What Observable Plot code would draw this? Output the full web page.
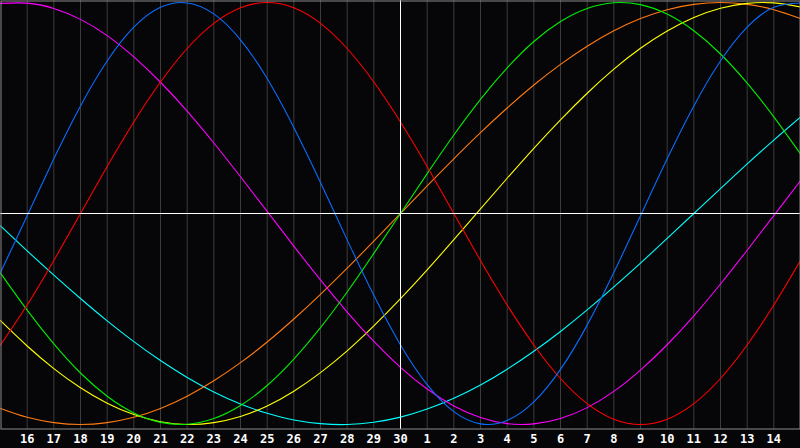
<!DOCTYPE html>
<html>
<head>
<meta charset="utf-8">
<script src="https://cdn.jsdelivr.net/npm/d3@7"></script>
<script src="https://cdn.jsdelivr.net/npm/@observablehq/plot@0.6"></script>
<style>
html,body{margin:0;padding:0;background:#060608;overflow:hidden;}
#chart svg{display:block;}
</style>
</head>
<body>
<div id="chart"></div>
<script>
// sample positions (day index across the window) and the day labels shown under positions 1..29
const days = [0,1,2,3,4,5,6,7,8,9,10,11,12,13,14,15,16,17,18,19,20,21,22,23,24,25,26,27,28,29,30];
const dayLabels = ["16","17","18","19","20","21","22","23","24","25","26","27","28","29","30","1","2","3","4","5","6","7","8","9","10","11","12","13","14"];
const todayLabel = "30";

// curve values at each day position (-1 .. 1)
const physical     = [-0.280,-0.011,0.259,0.510,0.723,0.883,0.977,0.998,0.946,0.823,0.640,0.408,0.147,-0.125,-0.388,-0.623,-0.811,-0.939,-0.997,-0.981,-0.893,-0.739,-0.529,-0.280,-0.011,0.259,0.510,0.723,0.883,0.977,0.998];
const emotional    = [-0.623,-0.434,-0.223,0,0.223,0.434,0.623,0.782,0.901,0.975,1,0.975,0.901,0.782,0.623,0.434,0.223,0,-0.223,-0.434,-0.623,-0.782,-0.901,-0.975,-1,-0.975,-0.901,-0.782,-0.623,-0.434,-0.223];
const intellectual = [-0.282,-0.458,-0.618,-0.756,-0.866,-0.945,-0.990,-0.999,-0.972,-0.910,-0.815,-0.690,-0.541,-0.372,-0.189,0,0.189,0.372,0.541,0.690,0.815,0.910,0.972,0.999,0.990,0.945,0.866,0.756,0.618,0.458,0.282];
const intuitive    = [0.996,0.997,0.972,0.920,0.843,0.742,0.622,0.485,0.334,0.174,0.010,-0.155,-0.315,-0.467,-0.606,-0.729,-0.832,-0.912,-0.967,-0.996,-0.997,-0.972,-0.920,-0.843,-0.742,-0.622,-0.485,-0.334,-0.174,-0.010,0.155];
const aesthetic    = [-0.508,-0.628,-0.735,-0.826,-0.899,-0.953,-0.987,-1.000,-0.991,-0.962,-0.912,-0.842,-0.754,-0.651,-0.533,-0.404,-0.267,-0.124,0.022,0.167,0.309,0.444,0.570,0.684,0.783,0.865,0.929,0.973,0.996,0.998,0.979];
const awareness    = [-0.924,-0.966,-0.991,-1,-0.991,-0.966,-0.924,-0.866,-0.793,-0.707,-0.609,-0.5,-0.383,-0.259,-0.131,0,0.131,0.259,0.383,0.5,0.609,0.707,0.793,0.866,0.924,0.966,0.991,1,0.991,0.966,0.924];
const spiritual    = [-0.059,-0.177,-0.292,-0.403,-0.509,-0.607,-0.697,-0.777,-0.846,-0.903,-0.947,-0.979,-0.996,-1.000,-0.989,-0.965,-0.927,-0.876,-0.813,-0.738,-0.653,-0.559,-0.457,-0.348,-0.235,-0.118,0.000,0.118,0.235,0.348,0.457];

const seriesNames  = ["spiritual","awareness","aesthetic","intuitive","intellectual","emotional","physical"];
const seriesValues = [spiritual, awareness, aesthetic, intuitive, intellectual, emotional, physical];
const seriesColors = ["#00ffff","#ff7a10","#ffff00","#ff00ff","#00ee00","#ff0000","#0a6cff"];

const rows = seriesNames.flatMap((name, s) =>
  seriesValues[s].map((v, i) => ({day: days[i], value: v, name}))
);
const tickDays = days.slice(1, days.length - 1);
const todayDay = tickDays[dayLabels.indexOf(todayLabel)];

const chart = Plot.plot({
  width: 800,
  height: 448,
  marginTop: 0,
  marginRight: 0,
  marginLeft: 0,
  marginBottom: 19,
  style: {background: "#060608", color: "#ffffff", overflow: "visible"},
  x: {domain: [days[0], days[days.length - 1]], axis: null},
  y: {domain: [-1, 1], range: [424, 2], axis: null},
  color: {type: "ordinal", domain: seriesNames, range: seriesColors},
  marks: [
    Plot.ruleX(tickDays, {stroke: "#3c3c3c", strokeWidth: 1}),
    Plot.line(rows, {x: "day", y: "value", z: "name", stroke: d => d.name, strokeWidth: 1.1, curve: "natural", clip: true}),
    Plot.ruleX([todayDay], {stroke: "#ffffff", strokeWidth: 1}),
    Plot.ruleY([0], {stroke: "#ffffff", strokeWidth: 1}),
    Plot.frame({stroke: "#8a8a8a", inset: 0.5}),
    Plot.axisX(tickDays, {
      anchor: "bottom",
      tickSize: 0,
      tickPadding: 5,
      tickFormat: d => dayLabels[tickDays.indexOf(d)],
      fill: "#ffffff",
      fontWeight: "bold",
      fontSize: 12,
      fontFamily: "DejaVu Sans Mono",
      label: null
    })
  ]
});
document.getElementById("chart").appendChild(chart);
</script>
</body>
</html>
